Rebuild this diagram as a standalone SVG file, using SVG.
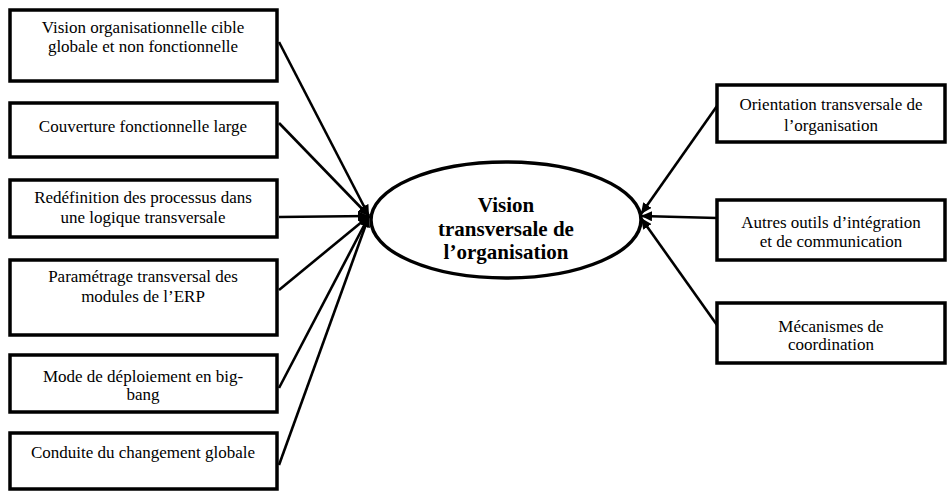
<svg xmlns="http://www.w3.org/2000/svg" width="951" height="493" viewBox="0 0 951 493">
<style>
.box{fill:#fff;stroke:#000;stroke-width:3.5}
.t{font-family:"Liberation Serif","Times New Roman",serif;font-size:17px;fill:#000;text-anchor:middle}
.tb{font-family:"Liberation Serif","Times New Roman",serif;font-size:21px;font-weight:bold;fill:#000;text-anchor:middle}
.c{stroke:#000;stroke-width:2.6;fill:none;marker-end:url(#ah)}
</style>
<defs>
<marker id="ah" markerUnits="userSpaceOnUse" markerWidth="12" markerHeight="10" refX="11" refY="5" orient="auto">
<path d="M0,0 L11,5 L0,10 z" fill="#000"/>
</marker>
</defs>
<rect width="951" height="493" fill="#fff"/>
<g id="connectors">
<line class="c" x1="279" y1="42" x2="369" y2="216"/>
<line class="c" x1="279" y1="123" x2="369" y2="216"/>
<line class="c" x1="279" y1="217" x2="369" y2="216"/>
<line class="c" x1="279" y1="290" x2="369" y2="216"/>
<line class="c" x1="279" y1="388" x2="369" y2="216"/>
<line class="c" x1="279" y1="465" x2="369" y2="216"/>
<line class="c" x1="717" y1="106" x2="641" y2="214"/>
<line class="c" x1="717" y1="218" x2="641" y2="216"/>
<line class="c" x1="717" y1="325" x2="641" y2="218"/>
</g>
<g id="center">
<ellipse cx="506" cy="220" rx="135" ry="58" fill="#fff" stroke="#000" stroke-width="3.5"/>
<text class="tb" x="506" y="212">Vision</text>
<text class="tb" x="506" y="236">transversale de</text>
<text class="tb" x="506" y="259">l’organisation</text>
</g>
<g id="n1">
<rect class="box" x="10" y="10" width="267" height="71"/>
<text class="t" x="143" y="33">Vision organisationnelle cible</text>
<text class="t" x="143" y="52">globale et non fonctionnelle</text>
</g>
<g id="n2">
<rect class="box" x="10" y="103" width="267" height="54"/>
<text class="t" x="143" y="132">Couverture fonctionnelle large</text>
</g>
<g id="n3">
<rect class="box" x="10" y="180" width="267" height="57"/>
<text class="t" x="143" y="203">Redéfinition des processus dans</text>
<text class="t" x="143" y="223">une logique transversale</text>
</g>
<g id="n4">
<rect class="box" x="10" y="260" width="267" height="75"/>
<text class="t" x="143" y="282">Paramétrage transversal des</text>
<text class="t" x="143" y="302">modules de l’ERP</text>
</g>
<g id="n5">
<rect class="box" x="10" y="355" width="267" height="57"/>
<text class="t" x="143" y="382">Mode de déploiement en big-</text>
<text class="t" x="143" y="400">bang</text>
</g>
<g id="n6">
<rect class="box" x="10" y="433" width="267" height="56"/>
<text class="t" x="143" y="458">Conduite du changement globale</text>
</g>
<g id="r1">
<rect class="box" x="717" y="85" width="228" height="57"/>
<text class="t" x="831" y="110">Orientation transversale de</text>
<text class="t" x="831" y="131">l’organisation</text>
</g>
<g id="r2">
<rect class="box" x="717" y="200" width="228" height="60"/>
<text class="t" x="831" y="228">Autres outils d’intégration</text>
<text class="t" x="831" y="247">et de communication</text>
</g>
<g id="r3">
<rect class="box" x="717" y="303" width="228" height="60"/>
<text class="t" x="831" y="332">Mécanismes de</text>
<text class="t" x="831" y="350">coordination</text>
</g>
</svg>
